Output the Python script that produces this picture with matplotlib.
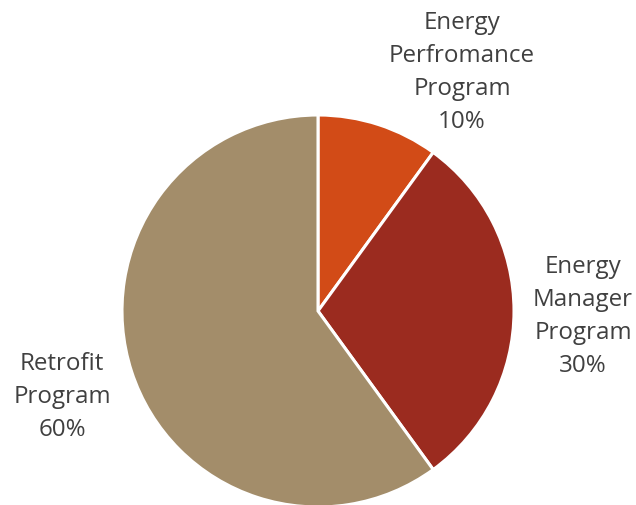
import matplotlib
matplotlib.use("Agg")
import matplotlib.pyplot as plt

labels = ["Energy\nPerfromance\nProgram\n10%", "Energy\nManager\nProgram\n30%", "Retrofit\nProgram\n60%"]
values = [10, 30, 60]
colors = ["#D24B17", "#9B2B1F", "#A38D6A"]
# label positions in units of the pie radius
label_pos = [(0.735, 1.22), (1.352, -0.025), (-1.306, -0.433)]

plt.rcParams["font.family"] = ["Open Sans", "DejaVu Sans"]

fig = plt.figure(figsize=(6.36, 5.06), dpi=100)
ax = fig.add_axes([(318 - 196) / 636, (194 - 196) / 506, 392 / 636, 392 / 506])
ax.pie(values, colors=colors, startangle=90, counterclock=False, radius=1,
       wedgeprops=dict(edgecolor="white", linewidth=2.2))
for lab, (x, y) in zip(labels, label_pos):
    ax.text(x, y, lab, ha="center", va="center", fontsize=17.4, color="#404040",
            linespacing=1.5)
ax.set_xlim(-1, 1)
ax.set_ylim(-1, 1)
ax.set_aspect("equal")
ax.axis("off")
fig.savefig("out.png", dpi=100)
